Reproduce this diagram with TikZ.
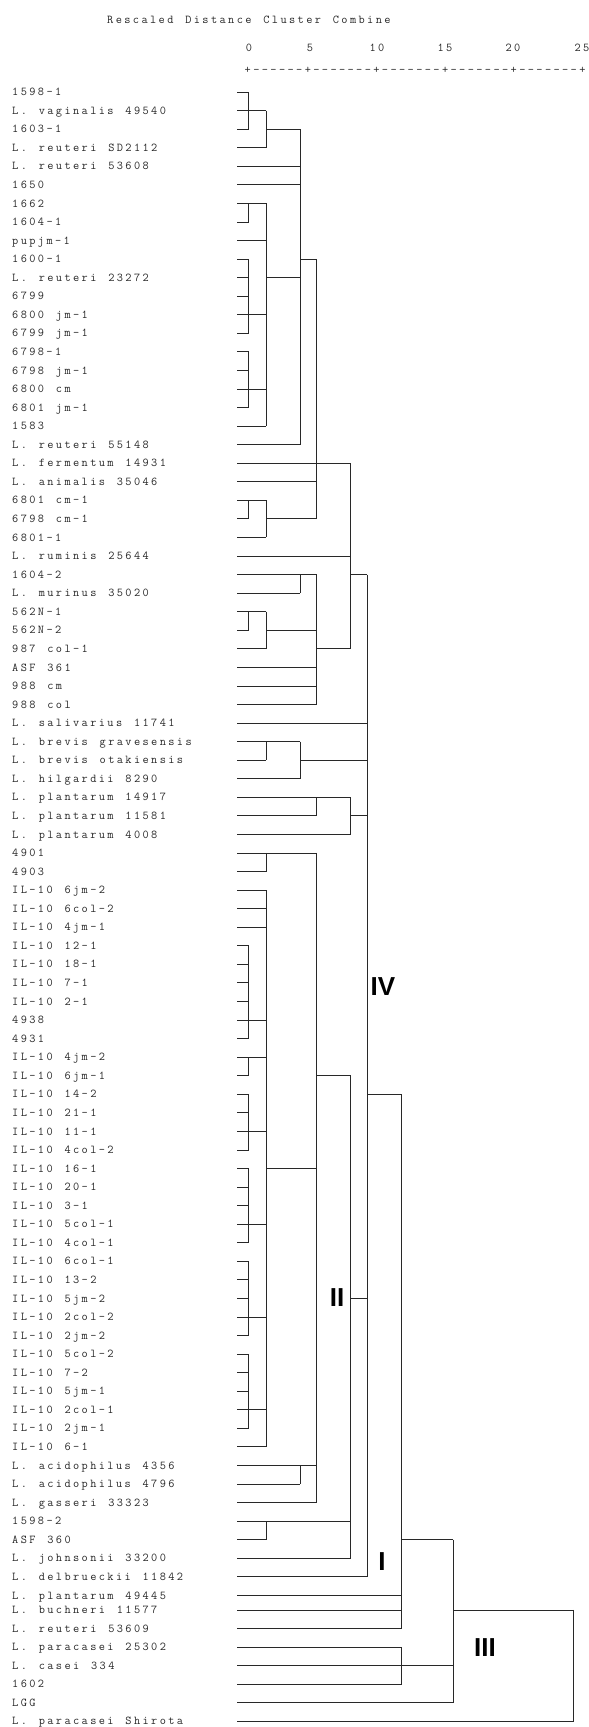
\documentclass[tikz,border=0pt]{standalone}
\usepackage{fontspec}
\setmonofont{Latin Modern Mono}[LetterSpace=20, WordSpace=1.38]
\newfontfamily\grpfont{Liberation Sans}
\definecolor{dInk}{RGB}{40,40,40}
\tikzset{
  leaf/.style={anchor=west, inner sep=0pt, text height=7.3pt, text depth=0pt,
               font=\ttfamily\fontsize{12}{12}\selectfont, text=dInk},
  tick/.style={leaf, anchor=center},
  tree/.style={draw=dInk, line width=0.8pt},
  grp/.style={font=\grpfont\bfseries\fontsize{26}{26}\selectfont, inner sep=0pt},
}

\begin{document}
\begin{tikzpicture}[x=1pt, y=-1pt]
  \fill[white] (0,0) rectangle (589,1727);
  \useasboundingbox (0,0) rectangle (589,1727);

  % --- header : title and distance scale ---------------------------------
  \node[leaf] (title) at (107,20) {Rescaled Distance Cluster Combine};
  \foreach \v/\xx in {0/249, 5/310, 10/377, 15/445, 20/513, 25/582}
    \node[tick] (n\v) at (\xx,48) {\v};
  \node[leaf] (scale) at (244.5,70) {+------+-------+-------+-------+-------+};

  % --- merge levels -------------------------------------------------------
  \foreach \lv/\xx in {A/248.5, B/266, C/300, D/316.5, E/350.5, F/367, G/401.5, H/453, K/573.5}
    \coordinate (lv\lv) at (\xx,0);

  % --- leaves -------------------------------------------------------------
  \foreach \txt [count=\i] in {1598-1, L. vaginalis 49540, 1603-1, L. reuteri SD2112,
      L. reuteri 53608, 1650, 1662, 1604-1, pupjm-1, 1600-1, L. reuteri 23272, 6799,
      6800 jm-1, 6799 jm-1, 6798-1, 6798 jm-1, 6800 cm, 6801 jm-1, 1583,
      L. reuteri 55148, L. fermentum 14931, L. animalis 35046, 6801 cm-1, 6798 cm-1,
      6801-1, L. ruminis 25644, 1604-2, L. murinus 35020, 562N-1, 562N-2, 987 col-1,
      ASF 361, 988 cm, 988 col, L. salivarius 11741, L. brevis gravesensis,
      L. brevis otakiensis, L. hilgardii 8290, L. plantarum 14917, L. plantarum 11581,
      L. plantarum 4008, 4901, 4903, IL-10 6jm-2, IL-10 6col-2, IL-10 4jm-1,
      IL-10 12-1, IL-10 18-1, IL-10 7-1, IL-10 2-1, 4938, 4931, IL-10 4jm-2,
      IL-10 6jm-1, IL-10 14-2, IL-10 21-1, IL-10 11-1, IL-10 4col-2, IL-10 16-1,
      IL-10 20-1, IL-10 3-1, IL-10 5col-1, IL-10 4col-1, IL-10 6col-1, IL-10 13-2,
      IL-10 5jm-2, IL-10 2col-2, IL-10 2jm-2, IL-10 5col-2, IL-10 7-2, IL-10 5jm-1,
      IL-10 2col-1, IL-10 2jm-1, IL-10 6-1, L. acidophilus 4356, L. acidophilus 4796,
      L. gasseri 33323, 1598-2, ASF 360, L. johnsonii 33200, L. delbrueckii 11842,
      L. plantarum 49445, L. buchneri 11577, L. reuteri 53609, L. paracasei 25302,
      L. casei 334, 1602, LGG, L. paracasei Shirota} {
    \pgfmathsetmacro{\yy}{92+(\i-1)*18.56-(\i>82)*4}
    \node[leaf] (l\i) at (12,\yy) {\txt};
    \coordinate (s\i) at (237,\yy);
  }

  % --- leaf stubs up to first junction ------------------------------------
  \foreach \r/\lv in {1/A,2/A,3/A,4/B,5/C,6/C,7/A,8/A,9/B,10/A,11/A,12/A,13/A,14/A,
      15/A,16/A,17/A,18/A,19/B,20/C,21/D,22/D,23/A,24/A,25/B,26/E,27/C,28/C,29/A,
      30/A,31/B,32/D,33/D,34/D,35/F,36/B,37/B,38/C,39/D,40/D,41/E,42/B,43/B,44/B,
      45/B,46/B,47/A,48/A,49/A,50/A,51/A,52/A,53/A,54/A,55/A,56/A,57/A,58/A,59/A,
      60/A,61/A,62/A,63/A,64/A,65/A,66/A,67/A,68/A,69/A,70/A,71/A,72/A,73/A,74/B,
      75/C,76/C,77/D,78/B,79/B,80/E,81/F,82/G,83/G,84/G,85/G,86/G,87/G,88/H,89/K}
    \draw[tree] (s\r) -- (s\r -| lv\lv);

  % --- merges : level / top / bottom / out row / parent level --------------
  \foreach \lv/\t/\b/\o/\p in {A/1/3/2/B, B/2/4/3/C, A/7/8/7/B, A/10/14/13/B,
      A/15/18/17/B, B/7/19/11/C, C/3/20/10/D, A/23/24/23/B, B/23/25/24/D,
      D/10/24/21/E, C/27/28/27/D, A/29/30/29/B, B/29/31/30/D, D/27/34/31/E,
      E/21/31/27/F, B/36/37/36/C, C/36/38/37/F, D/39/40/39/E, E/39/41/40/F,
      B/42/43/42/D, A/47/52/51/B, A/53/54/53/B, A/55/58/57/B, A/59/63/62/B,
      A/64/68/67/B, A/69/73/72/B, B/44/74/59/D, C/75/76/75/D, D/42/77/54/E,
      B/78/79/78/E, E/54/80/66/F, F/27/81/55/G, G/55/84/79/H, G/85/87/86/H,
      H/79/88/83/K} {
    \draw[tree] (s\t -| lv\lv) -- (s\b -| lv\lv);
    \draw[tree] (s\o -| lv\lv) -- (s\o -| lv\p);
  }
  \draw[tree] (s83 -| lvK) -- (s89 -| lvK);

  % --- cluster numerals ---------------------------------------------------
  \node[grp] (cIV) at (383,987) {IV};
  \node[grp] (cII) at (337,1298) {II};
  \node[grp] (cI) at (382,1562) {I};
  \node[grp] (cIII) at (485,1648) {III};
\end{tikzpicture}
\end{document}
